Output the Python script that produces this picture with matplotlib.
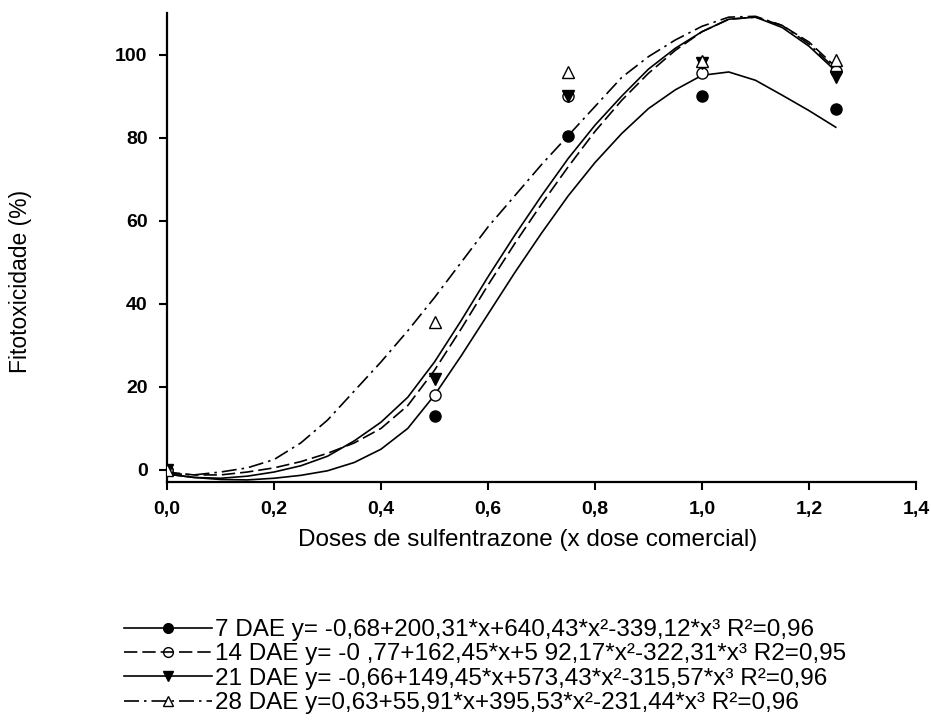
import matplotlib
matplotlib.use("Agg")
import matplotlib.pyplot as plt
from matplotlib.lines import Line2D

plt.rcParams["font.family"] = ["Liberation Sans", "DejaVu Sans"]

# observed points
doses = [0.0, 0.5, 0.75, 1.0, 1.25]
obs_7 = [0, 13, 80.5, 90, 87]
obs_14 = [0, 18, 90, 95.5, 96]
obs_21 = [0, 22, 90, 98, 94.5]
obs_28 = [0, 35.5, 95.7, 98.5, 98.6]

# fitted curves, every 0.05
curve_x = [0.0, 0.05, 0.1, 0.15, 0.2, 0.25, 0.3, 0.35, 0.4, 0.45, 0.5, 0.55, 0.6,
           0.65, 0.7, 0.75, 0.8, 0.85, 0.9, 0.95, 1.0, 1.05, 1.1, 1.15, 1.2, 1.25]
fit_7 = [-1.0, -1.8, -2.3, -2.4, -2.0, -1.3, -0.2, 1.8, 5.0, 10.0, 18.0, 27.5, 37.5,
         47.5, 57.0, 66.0, 74.0, 81.0, 87.0, 91.5, 95.0, 95.8, 93.8, 90.2, 86.5, 82.5]
fit_14 = [-0.5, -1.2, -1.2, -0.5, 0.5, 2.0, 4.0, 6.5, 10.0, 15.5, 24.0, 34.0, 44.5,
          54.5, 64.0, 73.0, 81.5, 89.0, 95.5, 101.0, 105.5, 108.5, 109.0, 107.0, 103.0, 97.0]
fit_21 = [-1.0, -1.8, -2.0, -1.5, -0.5, 1.0, 3.3, 7.0, 11.5, 17.5, 26.0, 36.0, 46.5,
          56.5, 66.0, 75.0, 83.0, 90.0, 96.5, 101.5, 105.5, 108.5, 109.0, 106.5, 102.0, 96.0]
fit_28 = [-0.8, -1.2, -0.5, 0.5, 2.5, 6.5, 12.0, 19.0, 26.0, 33.5, 41.5, 50.0, 58.5,
          66.0, 73.5, 80.5, 87.5, 94.5, 99.5, 103.5, 106.8, 109.0, 109.2, 107.0, 102.5, 96.5]

labels = [
    "7 DAE y= -0,68+200,31*x+640,43*x²-339,12*x³ R²=0,96",
    "14 DAE y= -0 ,77+162,45*x+5 92,17*x²-322,31*x³ R2=0,95",
    "21 DAE y= -0,66+149,45*x+573,43*x²-315,57*x³ R²=0,96",
    "28 DAE y=0,63+55,91*x+395,53*x²-231,44*x³ R²=0,96",
]

x_ticks = [0.0, 0.2, 0.4, 0.6, 0.8, 1.0, 1.2, 1.4]
y_ticks = [0, 20, 40, 60, 80, 100]

styles = [
    dict(ls="-", marker="o", mfc="black"),
    dict(ls=(0, (8, 3)), marker="o", mfc="white"),
    dict(ls="-", marker="v", mfc="black"),
    dict(ls=(0, (9, 3, 1.5, 3)), marker="^", mfc="white"),
]

fig = plt.figure(figsize=(9.31, 7.26), dpi=100)
ax = fig.add_axes([0.1794, 0.3361, 0.8045, 0.646])

handles = []
for obs, fit, st, lab in zip([obs_7, obs_14, obs_21, obs_28],
                             [fit_7, fit_14, fit_21, fit_28], styles, labels):
    ax.plot(curve_x, fit, color="black", lw=1.2, ls=st["ls"], zorder=2)
    ax.plot(doses, obs, ls="none", marker=st["marker"], ms=8, mfc=st["mfc"],
            mec="black", mew=1.0, zorder=3)
    handles.append(Line2D([], [], color="black", lw=1.2, ls=st["ls"],
                          marker=st["marker"], ms=7,
                          mfc="black" if st["mfc"] == "black" else "none",
                          mec="black", label=lab))

ax.set_xlim(0, 1.4)
ax.set_ylim(-2.9, 110)
ax.set_xticks(x_ticks)
ax.set_xticklabels([f"{v:.1f}".replace(".", ",") for v in x_ticks],
                   fontsize=14, fontweight="bold")
ax.set_yticks(y_ticks)
ax.set_yticklabels([str(v) for v in y_ticks], fontsize=14, fontweight="bold")
ax.tick_params(direction="out", length=6, width=1.5, pad=8)

for s in ["top", "right"]:
    ax.spines[s].set_visible(False)
for s in ["left", "bottom"]:
    ax.spines[s].set_linewidth(1.6)

ax.set_xlabel("Doses de sulfentrazone (x dose comercial)", fontsize=17.5)
ax.xaxis.set_label_coords((528 - 167) / 749, (482 - 529) / 469)
ax.set_ylabel("Fitotoxicidade (%)", fontsize=16.5)
ax.yaxis.set_label_coords((32 - 167) / 749, (482 - 281) / 469)

fig.legend(handles=handles, loc="upper left", bbox_to_anchor=(124 / 931, 1 - 619 / 726),
           frameon=False, fontsize=17.5, handlelength=3.6, handletextpad=0.15,
           labelspacing=0.1, borderpad=0, borderaxespad=0, numpoints=1)

fig.savefig("out.png", dpi=100)
